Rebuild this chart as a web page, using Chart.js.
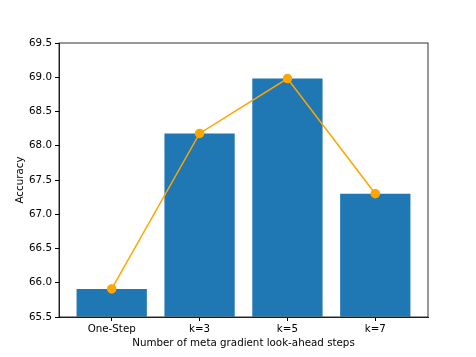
<!DOCTYPE html>
<html>
<head>
<meta charset="utf-8">
<script src="https://cdn.jsdelivr.net/npm/chart.js@4.4.0/dist/chart.umd.min.js"></script>
<style>
  html, body { margin: 0; padding: 0; background: #fff; }
  #wrap { width: 476px; height: 357px; }
</style>
</head>
<body>
<div id="wrap"><canvas id="chart"></canvas></div>
<script>
const categories = ['One-Step', 'k=3', 'k=5', 'k=7'];
const accuracy = [65.91, 68.18, 68.98, 67.30];
const yTicks = [65.5, 66.0, 66.5, 67.0, 67.5, 68.0, 68.5, 69.0, 69.5];

const points = accuracy.map((v, i) => ({ x: i, y: v }));

// matplotlib-like box around the axes
const frame = {
    id: 'frame',
    afterDraw(chart) {
        const a = chart.chartArea, ctx = chart.ctx;
        ctx.save();
        ctx.strokeStyle = '#000';
        ctx.lineWidth = 0.8;
        ctx.strokeRect(a.left, a.top, a.right - a.left, a.bottom - a.top);
        ctx.restore();
    }
};

const font = { family: 'DejaVu Sans', size: 10.3 };

new Chart(document.getElementById('chart'), {
    data: {
        datasets: [{
            type: 'line',
            data: points,
            borderColor: '#ffa500',
            backgroundColor: '#ffa500',
            borderWidth: 1.5,
            pointRadius: 4,
            pointHoverRadius: 4,
            order: 0
        }, {
            type: 'bar',
            data: points,
            backgroundColor: '#1f77b4',
            borderWidth: 0,
            barPercentage: 0.8,
            categoryPercentage: 1,
            base: 65.5,
            order: 1
        }]
    },
    options: {
        responsive: true,
        maintainAspectRatio: false,
        animation: false,
        layout: { padding: { left: 0, right: 48, top: 43, bottom: 0 } },
        plugins: { legend: { display: false }, tooltip: { enabled: false } },
        scales: {
            x: {
                type: 'linear',
                min: -0.6,
                max: 3.6,
                offset: false,
                afterBuildTicks: s => { s.ticks = categories.map((c, i) => ({ value: i })); },
                afterFit: s => { s.height = 40; },
                ticks: {
                    callback: v => categories[v],
                    color: '#000',
                    font: font,
                    padding: 2
                },
                grid: { drawOnChartArea: false, offset: false, tickLength: 4, color: '#000' },
                border: { display: true, color: '#000', width: 0.8 },
                title: {
                    display: true,
                    text: 'Number of meta gradient look-ahead steps',
                    color: '#000',
                    font: font,
                    padding: { top: 1, bottom: 7 }
                }
            },
            y: {
                min: 65.5,
                max: 69.5,
                afterBuildTicks: s => { s.ticks = yTicks.map(v => ({ value: v })); },
                afterFit: s => { s.width = 59; },
                ticks: {
                    callback: v => v.toFixed(1),
                    color: '#000',
                    font: font,
                    padding: 3
                },
                grid: { drawOnChartArea: false, tickLength: 4, color: '#000' },
                border: { display: true, color: '#000', width: 0.8 },
                title: {
                    display: true,
                    text: 'Accuracy',
                    color: '#000',
                    font: font,
                    padding: { top: 14, bottom: 4 }
                }
            }
        }
    },
    plugins: [frame]
});
</script>
</body>
</html>
